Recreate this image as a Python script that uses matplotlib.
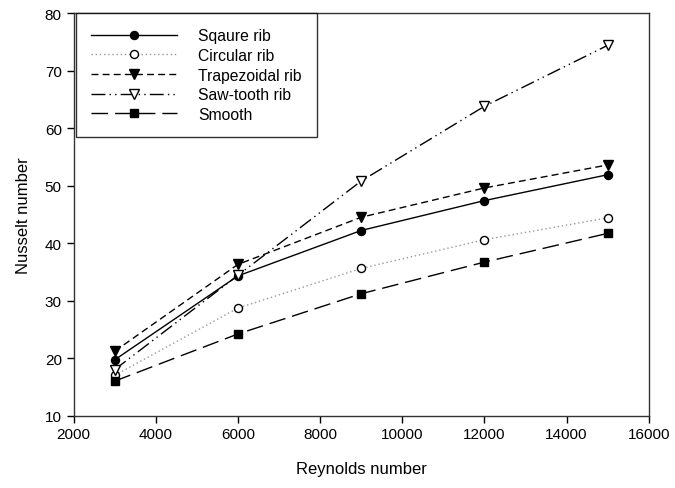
import matplotlib
matplotlib.use("Agg")
import matplotlib.pyplot as plt

plt.rcParams['font.family'] = ['Liberation Sans', 'DejaVu Sans']

reynolds = [3000, 6000, 9000, 12000, 15000]
square_rib = [19.7, 34.3, 42.2, 47.4, 51.9]
circular_rib = [17.0, 28.7, 35.6, 40.6, 44.4]
trapezoidal_rib = [21.2, 36.3, 44.5, 49.6, 53.6]
sawtooth_rib = [18.0, 34.4, 50.8, 63.8, 74.4]
smooth = [16.0, 24.2, 31.2, 36.7, 41.7]

fig = plt.figure(figsize=(6.75, 4.89), dpi=100)
ax = fig.add_axes([0.109, 0.148, 0.852, 0.823])

ms = 5.8
ax.plot(reynolds, square_rib, color='black', lw=1, ls='-', marker='o', ms=ms,
        mfc='black', mec='black', label='Sqaure rib')
ax.plot(reynolds, circular_rib, color='#999999', lw=1, ls=(0, (1, 2)), marker='o', ms=ms,
        mfc='white', mec='black', label='Circular rib')
ax.plot(reynolds, trapezoidal_rib, color='black', lw=1, ls=(0, (5, 3)), marker='v', ms=ms + 1,
        mfc='black', mec='black', label='Trapezoidal rib')
ax.plot(reynolds, sawtooth_rib, color='black', lw=1, ls=(0, (10, 3, 1, 3, 1, 3)), marker='v', ms=ms + 1,
        mfc='white', mec='black', label='Saw-tooth rib')
ax.plot(reynolds, smooth, color='black', lw=1, ls=(0, (12, 5)), marker='s', ms=ms,
        mfc='black', mec='black', label='Smooth')

ax.set_xlim(2000, 16000)
ax.set_ylim(10, 80)
ax.set_xticks(range(2000, 16001, 2000))
ax.set_yticks(range(10, 81, 10))
ax.tick_params(direction='out', length=5, width=1, labelsize=11, colors='black')
for sp in ax.spines.values():
    sp.set_linewidth(1)
    sp.set_color('#333333')

ax.set_xlabel('Reynolds number', fontsize=12, labelpad=14)
ax.set_ylabel('Nusselt number', fontsize=12, labelpad=10)

leg = ax.legend(loc='upper left', bbox_to_anchor=(0.004, 1.0), borderaxespad=0,
                fontsize=11.3, handlelength=5.5, handletextpad=1.35, labelspacing=0.3,
                fancybox=False, frameon=True, borderpad=0.95)
leg.get_frame().set_edgecolor('black')
leg.get_frame().set_linewidth(1)

fig.savefig('out.png', dpi=100)
